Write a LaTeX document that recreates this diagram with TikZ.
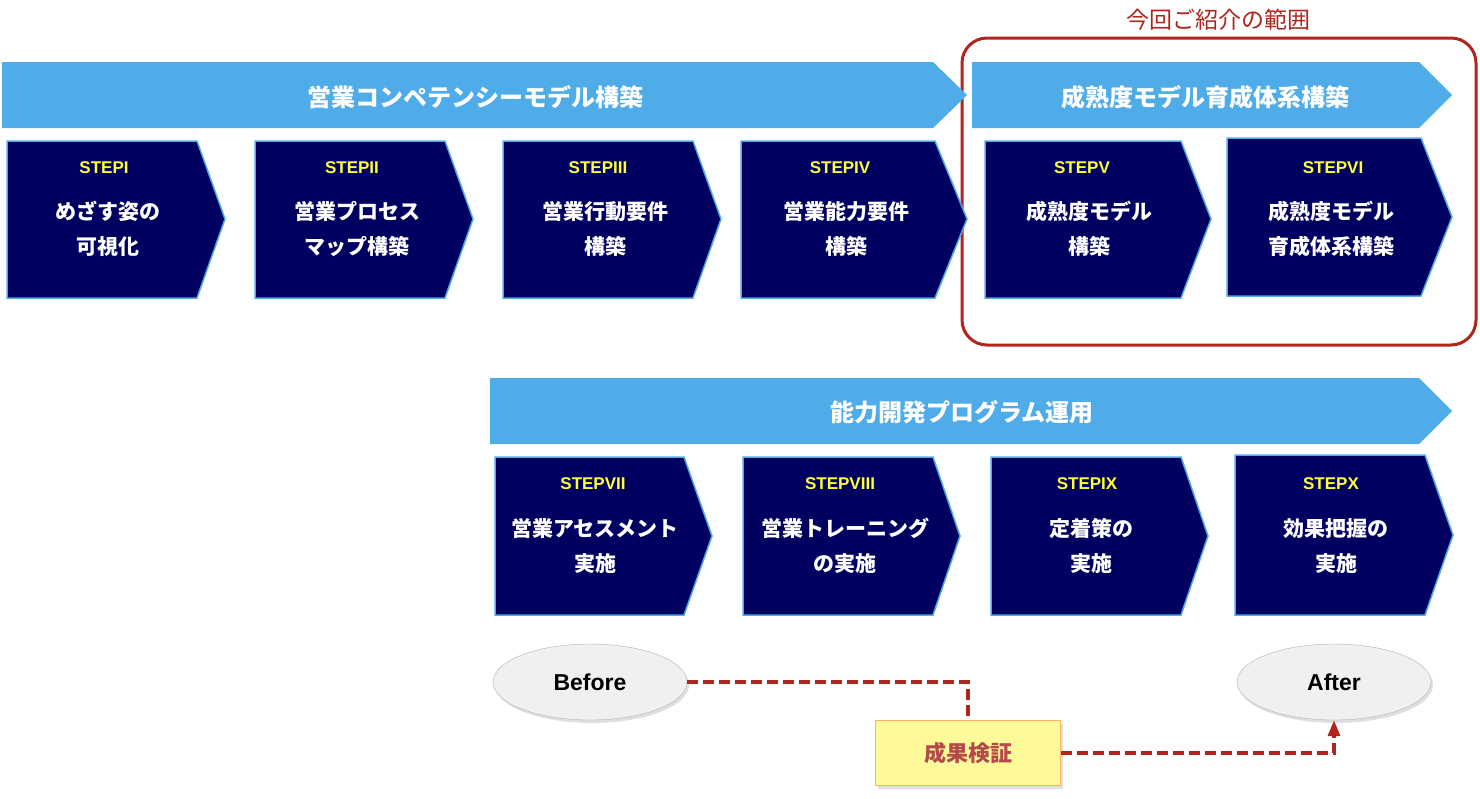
\documentclass[tikz,border=0pt]{standalone}
\usepackage{fontspec}
\setmainfont{Liberation Sans}
\newfontfamily\jp{Noto Sans CJK JP}
\usepackage{xcolor}
\usepackage{tikz}
\usetikzlibrary{shapes.geometric,shadows,arrows.meta}

\definecolor{bannerblue}{RGB}{79,172,232}
\definecolor{stepnavy}{RGB}{0,0,96}
\definecolor{stepedge}{RGB}{79,170,232}
\definecolor{stepyellow}{RGB}{255,255,51}
\definecolor{scopered}{RGB}{176,38,30}
\definecolor{notered}{RGB}{181,72,74}

\begin{document}
\begin{tikzpicture}[x=1pt, y=-1pt,
			% Define the styles
			banner/.style={fill=bannerblue, draw=none},
			bannertxt/.style={text=white, font=\jp\bfseries\fontsize{24}{24}\selectfont},
			stepshape/.style={fill=stepnavy, draw=stepedge, line width=1.5pt},
			steplbl/.style={text=stepyellow, font=\bfseries\fontsize{17}{17}\selectfont},
			steptxt/.style={text=white, align=center, font=\jp\bfseries\fontsize{21}{35}\selectfont},
			phase/.style={ellipse, draw=gray!60, fill=gray!12, minimum width=194pt, minimum height=76pt,
				drop shadow={opacity=0.25, shadow xshift=2pt, shadow yshift=-3pt},
				font=\bfseries\fontsize{23}{23}\selectfont},
			verify/.style={draw=scopered, line width=3.5pt, dash pattern=on 11pt off 5pt}
			]
			
			\useasboundingbox (0,0) rectangle (1480,798);
			
			% scope frame
			\draw[scopered, line width=3pt, rounded corners=25pt] (962,38) rectangle (1476,345);
			\node (scope) at (1218,20) [text=scopered, font=\jp\fontsize{23}{23}\selectfont] {今回ご紹介の範囲};
			
			% banners
			\fill[banner] (2,62) -- (933,62) -- (967,95) -- (933,128) -- (2,128) -- cycle;
			\fill[banner] (972,62) -- (1419,62) -- (1452,95) -- (1419,128) -- (972,128) -- cycle;
			\fill[banner] (490,378) -- (1419,378) -- (1452,411) -- (1419,444) -- (490,444) -- cycle;
			\node (b1) at (475,97) [bannertxt] {営業コンペテンシーモデル構築};
			\node (b2) at (1205,97) [bannertxt] {成熟度モデル育成体系構築};
			\node (b3) at (962,412) [bannertxt] {能力開発プログラム運用};
			
			% steps, upper row
			\draw[stepshape] (7,141) -- (197,141) -- (225,219) -- (197,298) -- (7,298) -- cycle;
			\draw[stepshape] (255,141) -- (445,141) -- (473,219) -- (445,298) -- (255,298) -- cycle;
			\draw[stepshape] (503,141) -- (693,141) -- (721,219) -- (693,298) -- (503,298) -- cycle;
			\draw[stepshape] (741,141) -- (935,141) -- (967,219) -- (935,298) -- (741,298) -- cycle;
			\draw[stepshape] (985,141) -- (1181,141) -- (1211,219) -- (1181,298) -- (985,298) -- cycle;
			\draw[stepshape] (1227,138) -- (1421,138) -- (1452,217) -- (1421,296) -- (1227,296) -- cycle;
			
			\node (l1) at (104,168) [steplbl] {STEPI};
			\node (l2) at (352,168) [steplbl] {STEPII};
			\node (l3) at (598,168) [steplbl] {STEPIII};
			\node (l4) at (840,168) [steplbl] {STEPIV};
			\node (l5) at (1082,168) [steplbl] {STEPV};
			\node (l6) at (1333,168) [steplbl] {STEPVI};
			
			\node (t1) at (108,229) [steptxt] {めざす姿の\\可視化};
			\node (t2) at (357,229) [steptxt] {営業プロセス\\マップ構築};
			\node (t3) at (605,229) [steptxt] {営業行動要件\\構築};
			\node (t4) at (846,229) [steptxt] {営業能力要件\\構築};
			\node (t5) at (1089,229) [steptxt] {成熟度モデル\\構築};
			\node (t6) at (1331,229) [steptxt] {成熟度モデル\\育成体系構築};
			
			% steps, lower row
			\draw[stepshape] (495,457) -- (684,457) -- (712,536) -- (684,615) -- (495,615) -- cycle;
			\draw[stepshape] (743,457) -- (933,457) -- (960,536) -- (933,615) -- (743,615) -- cycle;
			\draw[stepshape] (991,457) -- (1181,457) -- (1208,536) -- (1181,615) -- (991,615) -- cycle;
			\draw[stepshape] (1235,455) -- (1425,455) -- (1453,535) -- (1425,615) -- (1235,615) -- cycle;
			
			\node (l7) at (593,484) [steplbl] {STEPVII};
			\node (l8) at (840,484) [steplbl] {STEPVIII};
			\node (l9) at (1087,484) [steplbl] {STEPIX};
			\node (l10) at (1331,484) [steplbl] {STEPX};
			
			\node (t7) at (595,546) [steptxt] {営業アセスメント\\実施};
			\node (t8) at (845,546) [steptxt] {営業トレーニング\\の実施};
			\node (t9) at (1091,546) [steptxt] {定着策の\\実施};
			\node (t10) at (1336,546) [steptxt] {効果把握の\\実施};
			
			% before / after
			\node (before) at (590,682) [phase] {Before};
			\node (after) at (1334,682) [phase] {After};
			\node (kensho) at (968,753) [rectangle, minimum width=185pt, minimum height=65pt,
				fill=yellow!40, draw=orange!60, line width=1pt, text=notered,
				drop shadow={opacity=0.25, shadow xshift=2pt, shadow yshift=-3pt},
				font=\jp\bfseries\fontsize{22}{22}\selectfont] {成果検証};
			
			\draw[verify] (before.east) -| (kensho.north);
			\draw[verify, -{Triangle[length=16pt,width=12pt]}] (kensho.east) -| (after.south);
			
		\end{tikzpicture}
\end{document}
